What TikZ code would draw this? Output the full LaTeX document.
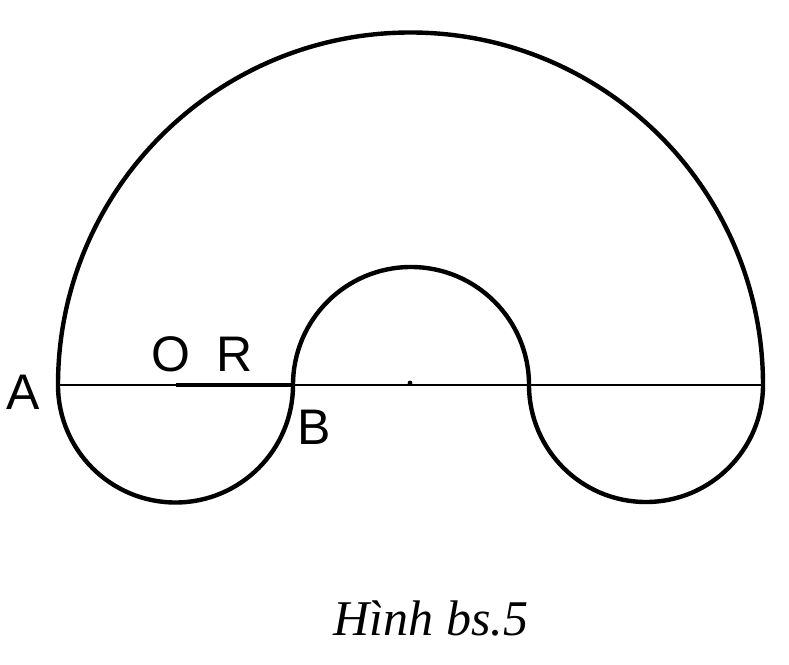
\documentclass[tikz,border=0pt]{standalone}
\usepackage{fontspec}
\setmainfont{Liberation Serif}
\newfontfamily\lblfont{Liberation Sans}
\begin{document}
\begin{tikzpicture}[x=1pt,y=1pt,
  outline/.style={line width=4.4pt,line join=round},
  axisline/.style={line width=2.2pt},
  radline/.style={line width=3.6pt},
  lbl/.style={font=\lblfont\fontsize{50}{50}\selectfont,inner sep=0pt},
  captext/.style={font=\itshape\fontsize{50}{50}\selectfont,inner sep=0pt}]
\useasboundingbox (0,0) rectangle (789,664);
\coordinate (A) at (58,279);
\coordinate (E) at (763,279);
\coordinate (B) at (293,279);
\coordinate (C) at (529,279);
\coordinate (O) at (175.5,279);
\draw[axisline] (A) -- (E);
\draw[radline] (O) -- (B);
\fill (410,281) circle (2.4);
\draw[outline] (A) arc[start angle=180,end angle=0,radius=352.5]
  arc[start angle=0,end angle=-180,radius=117]
  arc[start angle=0,end angle=180,radius=118]
  arc[start angle=0,end angle=-180,radius=117.5] -- cycle;
\node[lbl] (lA) at (23,272) {A};
\node[lbl] (lO) at (171,310) {O};
\node[lbl] (lR) at (235,310) {R};
\node[lbl] (lB) at (314,237) {B};
\node[captext] (caption) at (431,46) {Hình bs.5};
\end{tikzpicture}
\end{document}
